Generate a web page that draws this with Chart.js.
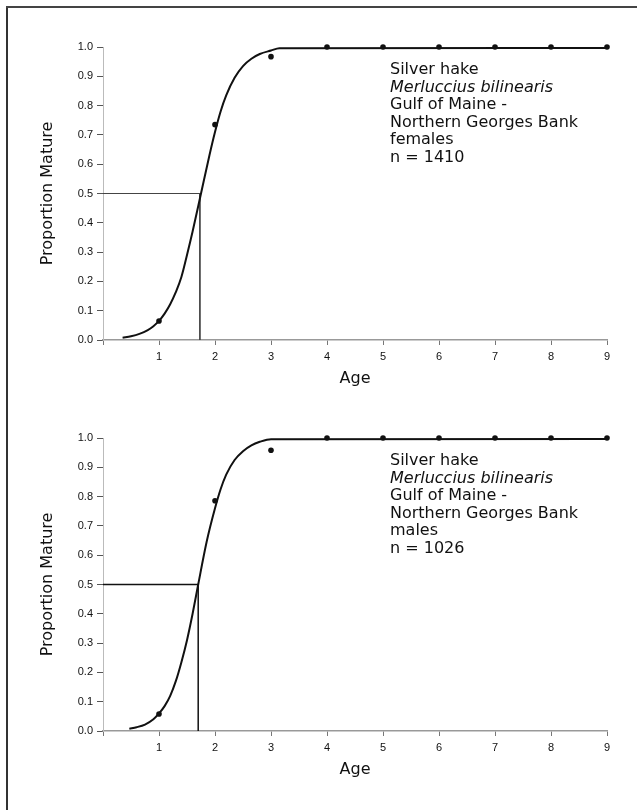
<!DOCTYPE html>
<html>
<head>
<meta charset="utf-8">
<script src="https://cdn.jsdelivr.net/npm/chart.js@4.4.1/dist/chart.umd.min.js"></script>
<style>
  html, body { margin: 0; padding: 0; background: #fff; }
  #page { position: relative; width: 637px; height: 810px; overflow: hidden; background: #fff; }
  .frameL { position: absolute; left: 6px; top: 6px; width: 2px; height: 804px; background: #333; }
  .frameT { position: absolute; left: 6px; top: 6px; width: 631px; height: 1.5px; background: #444; }
  .panel { position: absolute; left: 0; width: 637px; height: 400px; }
  .note { position: absolute; left: 390px; font-family: "DejaVu Sans", sans-serif; font-size: 16px;
          line-height: 17.5px; color: #111; white-space: nowrap; }
  .note .it { font-style: italic; }
</style>
</head>
<body>
<div id="page">
  <div class="frameL"></div>
  <div class="frameT"></div>
  <div class="panel" style="top:0px"><canvas id="c1" width="637" height="400"></canvas></div>
  <div class="panel" style="top:391px"><canvas id="c2" width="637" height="400"></canvas></div>
  <div class="note" id="n1" style="top:60px"></div>
  <div class="note" id="n2" style="top:451px"></div>
</div>
<script>
// ---- data ----
const ages = [1, 2, 3, 4, 5, 6, 7, 8, 9];
const femaleProp = [0.065, 0.735, 0.967, 1.0, 1.0, 1.0, 1.0, 1.0, 1.0];
const maleProp   = [0.058, 0.786, 0.958, 1.0, 1.0, 1.0, 1.0, 1.0, 1.0];

const femaleCurveAge  = [0.35, 0.5, 0.65, 0.8, 0.9, 1.0, 1.1, 1.2, 1.3, 1.4, 1.5, 1.6, 1.75, 1.9, 2.0, 2.1, 2.2, 2.35, 2.5, 2.65, 2.8, 3.0, 3.15, 9.0];
const femaleCurveProp = [0.008, 0.013, 0.021, 0.034, 0.047, 0.065, 0.09, 0.122, 0.163, 0.215, 0.29, 0.37, 0.50, 0.63, 0.71, 0.78, 0.835, 0.895, 0.935, 0.96, 0.976, 0.988, 0.996, 0.997];
const maleCurveAge  = [0.47, 0.6, 0.75, 0.9, 1.0, 1.1, 1.2, 1.3, 1.4, 1.5, 1.6, 1.7, 1.85, 2.0, 2.1, 2.2, 2.35, 2.5, 2.65, 2.8, 3.0, 9.0];
const maleCurveProp = [0.008, 0.013, 0.022, 0.04, 0.06, 0.085, 0.12, 0.17, 0.235, 0.31, 0.40, 0.50, 0.645, 0.76, 0.825, 0.875, 0.925, 0.955, 0.975, 0.987, 0.996, 0.997];

const femaleA50 = 1.73;
const maleA50 = 1.70;
const halfMature = 0.5;

const xTickValues = [0, 1, 2, 3, 4, 5, 6, 7, 8, 9];
const yTickValues = [0, 0.1, 0.2, 0.3, 0.4, 0.5, 0.6, 0.7, 0.8, 0.9, 1.0];

const femaleNote = ["Silver hake", "Merluccius bilinearis", "Gulf of Maine -", "Northern Georges Bank", "females", "n = 1410"];
const maleNote   = ["Silver hake", "Merluccius bilinearis", "Gulf of Maine -", "Northern Georges Bank", "males", "n = 1026"];
const xTitle = "Age";
const yTitle = "Proportion Mature";

// ---- helpers ----
function pairs(xs, ys) { return xs.map((x, i) => ({ x: x, y: ys[i] })); }

function fillNote(id, lines) {
  const el = document.getElementById(id);
  lines.forEach((t, i) => {
    const d = document.createElement('div');
    d.textContent = t;
    if (i === 1) d.className = 'it';
    el.appendChild(d);
  });
}

function makeChart(id, curveX, curveY, pts, a50, refWidth, refColor) {
  const ctx = document.getElementById(id).getContext('2d');
  return new Chart(ctx, {
    type: 'scatter',
    data: {
      datasets: [
        { data: pairs(curveX, curveY), showLine: true, borderColor: '#111', borderWidth: 2,
          pointRadius: 0, cubicInterpolationMode: 'monotone', fill: false, clip: false },
        { data: pairs(ages, pts), showLine: false, pointRadius: 2.8, pointHoverRadius: 2.8,
          backgroundColor: '#111', borderColor: '#111', borderWidth: 0, clip: false },
        { data: [{ x: 0, y: halfMature }, { x: a50, y: halfMature }, { x: a50, y: 0 }],
          showLine: true, borderColor: refColor, borderWidth: refWidth, pointRadius: 0, tension: 0, fill: false }
      ]
    },
    options: {
      responsive: false,
      animation: false,
      devicePixelRatio: 1,
      layout: { padding: { left: 0, right: 30, top: 47, bottom: 0 } },
      plugins: { legend: { display: false }, tooltip: { enabled: false } },
      scales: {
        x: {
          type: 'linear', min: 0, max: 9,
          afterFit(s) { s.height = 60; },
          afterBuildTicks(s) { s.ticks = xTickValues.map(v => ({ value: v })); },
          ticks: {
            callback: v => (v === 0 ? '' : String(v)),
            font: { family: 'Liberation Sans', size: 11 }, color: '#111',
            padding: 5, maxRotation: 0, autoSkip: false
          },
          grid: { drawOnChartArea: false, drawTicks: true, tickLength: 5, color: '#777' },
          border: { display: true, color: '#999', width: 1.5 },
          title: { display: true, text: xTitle, font: { family: 'DejaVu Sans', size: 16 }, color: '#111',
                   padding: { top: 0, bottom: 12 } }
        },
        y: {
          type: 'linear', min: 0, max: 1,
          afterFit(s) { s.width = 103; },
          afterBuildTicks(s) { s.ticks = yTickValues.map(v => ({ value: v })); },
          ticks: {
            callback: v => Number(v).toFixed(1),
            font: { family: 'Liberation Sans', size: 11 }, color: '#111', padding: 4, autoSkip: false
          },
          grid: { drawOnChartArea: false, drawTicks: true, tickLength: 6, color: '#555' },
          border: { display: true, color: '#bbb', width: 1 },
          title: { display: true, text: yTitle, font: { family: 'DejaVu Sans', size: 16 }, color: '#111',
                   padding: { top: 38, bottom: 0 } }
        }
      }
    }
  });
}

fillNote('n1', femaleNote);
fillNote('n2', maleNote);
makeChart('c1', femaleCurveAge, femaleCurveProp, femaleProp, femaleA50, 1, '#444');
makeChart('c2', maleCurveAge, maleCurveProp, maleProp, maleA50, 1.5, '#111');
</script>
</body>
</html>
